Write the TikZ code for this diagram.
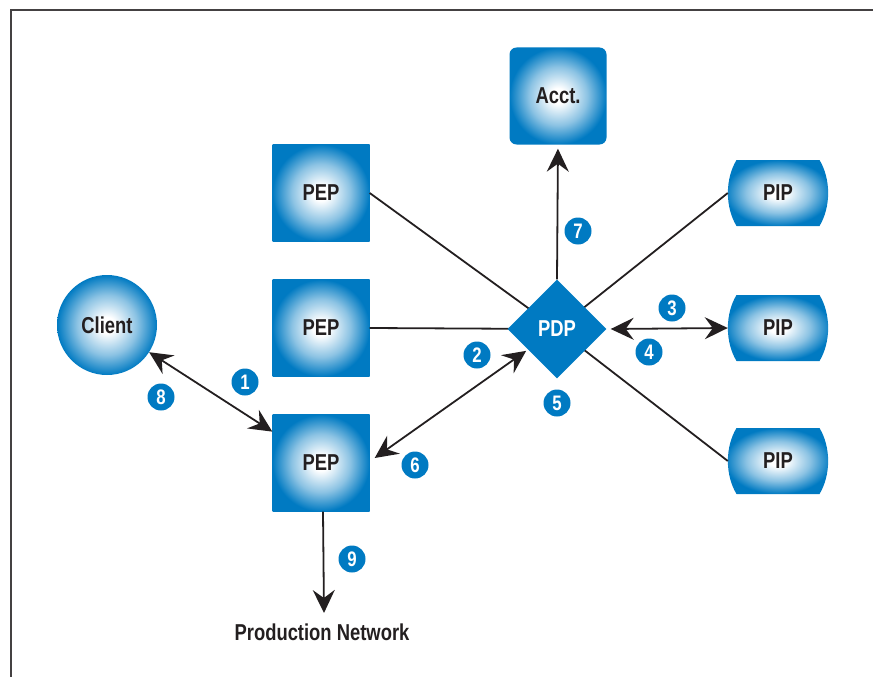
\documentclass[tikz,border=0pt]{standalone}
\usepackage{fontspec}
\setmainfont{Liberation Sans}[FakeStretch=0.8]
\usetikzlibrary{shapes.geometric,arrows.meta}
\definecolor{nblue}{RGB}{0,122,194}
\definecolor{ink}{RGB}{35,31,32}
\pgfdeclareradialshading{bluerad}{\pgfpoint{0bp}{0bp}}{color(0bp)=(white); color(4bp)=(white); color(15bp)=(nblue!45!white); color(25bp)=(nblue); color(50bp)=(nblue)}
\tikzset{
  lbl/.style={font=\bfseries\fontsize{23}{25}\selectfont, text=ink},
  boxnode/.style={rectangle, minimum size=97pt, inner sep=0pt, shade, shading=bluerad, lbl},
  num/.style={circle, fill=nblue, minimum size=27pt, inner sep=0pt, text=white, font=\bfseries\fontsize{21}{22}\selectfont},
  conn/.style={draw=ink, line width=1.8pt},
  tip/.tip={Stealth[length=23pt,width=22pt,inset=8pt]},
  arr/.style={conn, -tip},
  darr/.style={conn, tip-tip},
  pipshape/.pic={\path[shade, shading=bluerad] (-41.5,-33) -- (41.5,-33) .. controls (53,-14) and (53,14) .. (41.5,33) -- (-41.5,33) .. controls (-53,14) and (-53,-14) .. (-41.5,-33) -- cycle;},
  pipnode/.style={rectangle, minimum width=100pt, minimum height=66pt, inner sep=0pt, lbl}
}
\begin{document}
\begin{tikzpicture}[x=1pt,y=-1pt]
\useasboundingbox (0,0) rectangle (873,677);
\draw[line width=1.5pt, ink!85] (11,677) -- (11,10) -- (873,10);

% shapes
\node[boxnode] (pep1) at (321,193) {PEP};
\node[boxnode] (pep2) at (321,328) {PEP};
\node[boxnode] (pep3) at (321,463) {PEP};
\node[circle, minimum size=100pt, inner sep=0pt, shade, shading=bluerad, lbl] (client) at (107,325) {Client};
\node[rectangle, rounded corners=7pt, minimum size=97pt, inner sep=0pt, shade, shading=bluerad, lbl] (acct) at (558,96) {Acct.};
\pic at (778,193) {pipshape};
\pic at (778,328) {pipshape};
\pic at (778,461) {pipshape};
\node[pipnode] (pip1) at (778,193) {PIP};
\node[pipnode] (pip2) at (778,328) {PIP};
\node[pipnode] (pip3) at (778,461) {PIP};
\coordinate (pdpc) at (557,329);

% plain connectors (behind diamond)
\draw[conn] (pep1.east) -- (pdpc);
\draw[conn] (pep2.east) -- (pdpc);
\draw[conn] (pip1.west) -- (pdpc);
\draw[conn] (pip3.west) -- (pdpc);

\node[diamond, aspect=1, minimum size=99pt, inner sep=0pt, fill=nblue, text=white, font=\bfseries\fontsize{23}{25}\selectfont] (pdp) at (pdpc) {PDP};

% arrows
\draw[arr, shorten >=4pt] (pdp.north) -- (acct.south);
\draw[darr] ([xshift=4pt]pdp.east) -- (pip2.west);
\draw[darr] (client) -- (pep3);
\draw[darr] ([shift={(5,-5)}]pep3.east) -- ([shift={(-6,-3)}]pdp.south west);
\coordinate (pn) at (324,613);
\draw[arr] ([xshift=2pt]pep3.south) -- (pn);
\node[lbl] (prodnet) at (322,632) {Production Network};

% numbers
\node[num] (n1) at (245,382) {1};
\node[num] (n2) at (477,355) {2};
\node[num] (n3) at (672,308) {3};
\node[num] (n4) at (649,352) {4};
\node[num] (n5) at (557,403) {5};
\node[num] (n6) at (415,465) {6};
\node[num] (n7) at (578,231) {7};
\node[num] (n8) at (161,397) {8};
\node[num] (n9) at (352,559) {9};
\end{tikzpicture}
\end{document}
